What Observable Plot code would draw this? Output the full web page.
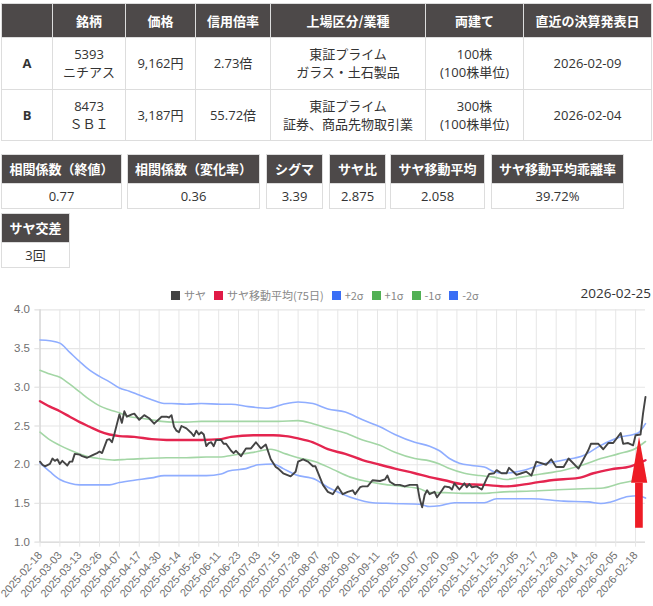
<!DOCTYPE html>
<html lang="ja">
<head>
<meta charset="utf-8">
<script src="https://cdn.jsdelivr.net/npm/d3@7"></script>
<script src="https://cdn.jsdelivr.net/npm/@observablehq/plot@0.6"></script>
<style>
html,body{margin:0;padding:0;background:#fff;}
body{width:653px;height:606px;position:relative;overflow:hidden;font-family:"Open Sans","Noto Sans CJK JP",sans-serif;color:#333;}
table{border-collapse:collapse;table-layout:fixed;position:absolute;font-size:13px;line-height:18px;text-align:center;}
th{background:#4d4949;color:#fff;font-weight:700;border:1px solid #ddd;padding:0;font-family:"Noto Sans CJK JP",sans-serif;font-size:13px;white-space:nowrap;}
td{border:1px solid #ddd;padding:0;background:#fff;white-space:nowrap;}
td.h{font-weight:700;}
#legend{position:absolute;left:171px;top:287px;font:11px "Noto Sans CJK JP",sans-serif;color:#888;display:flex;align-items:center;white-space:nowrap;}
#legend i{display:inline-block;width:9px;height:9px;margin-right:4px;}
#legend span{margin-right:8px;display:flex;align-items:center;}
#date{position:absolute;right:2px;top:284px;font:13.5px "Open Sans",sans-serif;color:#333;}
#chart{position:absolute;left:0;top:285px;}
</style>
</head>
<body>
<div id="tables"></div>
<div id="chart"></div>
<div id="legend"></div>
<div id="date"></div>
<script>
const mainHead = ["", "銘柄", "価格", "信用倍率", "上場区分/業種", "両建て", "直近の決算発表日"];
const mainRowA = ["A", "5393<br>ニチアス", "9,162円", "2.73倍", "東証プライム<br>ガラス・土石製品", "100株<br>(100株単位)", "2026-02-09"];
const mainRowB = ["B", "8473<br>ＳＢＩ", "3,187円", "55.72倍", "東証プライム<br>証券、商品先物取引業", "300株<br>(100株単位)", "2026-02-04"];
const statHead = ["相関係数（終値）", "相関係数（変化率）", "シグマ", "サヤ比", "サヤ移動平均", "サヤ移動平均乖離率", "サヤ交差"];
const statVals = ["0.77", "0.36", "3.39", "2.875", "2.058", "39.72%", "3回"];
const latestDate = "2026-02-25";

const tickLabels = ["2025-02-18","2025-03-03","2025-03-13","2025-03-26","2025-04-07","2025-04-17","2025-04-30","2025-05-14","2025-05-26","2025-06-11","2025-06-23","2025-07-03","2025-07-15","2025-07-28","2025-08-07","2025-08-20","2025-09-01","2025-09-11","2025-09-25","2025-10-07","2025-10-20","2025-10-30","2025-11-12","2025-11-25","2025-12-05","2025-12-17","2025-12-29","2026-01-14","2026-01-26","2026-02-05","2026-02-18"];

// trading-day index of each reading, and the value read there
const sayaDay = [0,1,2,4,5,6,7,8,9,11,12,13,14,16,17,19,21,23,24,25,27,28,29,30,32,33,34,35,37,38,40,42,44,46,49,51,52,53,54,55,56,57,59,61,62,63,64,65,66,67,68,69,70,71,73,74,75,77,78,79,81,83,85,87,89,91,93,95,96,98,101,103,104,106,108,110,111,113,114,116,118,120,122,124,126,127,129,130,132,134,137,139,140,141,143,145,147,149,152,153,154,155,156,157,159,160,162,163,165,166,167,169,171,172,173,174,176,178,180,181,183,184,186,188,189,192,194,196,198,200,204,206,208,211,213,217,221,222,225,227,229,231,234,235,237,239,240,242,243,244];
const sayaVal = [2.04,2.00,1.98,2.01,2.08,2.05,2.07,2.01,2.05,1.99,2.04,2.04,2.14,2.13,2.11,2.09,2.12,2.15,2.17,2.15,2.32,2.33,2.29,2.40,2.65,2.54,2.69,2.62,2.65,2.66,2.58,2.64,2.60,2.53,2.62,2.62,2.61,2.64,2.49,2.44,2.42,2.50,2.47,2.41,2.37,2.44,2.39,2.42,2.39,2.24,2.28,2.29,2.24,2.32,2.32,2.27,2.27,2.18,2.15,2.18,2.11,2.21,2.21,2.29,2.21,2.26,2.07,1.97,1.95,1.89,1.85,1.91,2.04,2.07,2.04,1.98,1.98,1.82,1.74,1.65,1.62,1.72,1.62,1.65,1.67,1.62,1.71,1.72,1.72,1.80,1.79,1.81,1.86,1.78,1.74,1.74,1.72,1.74,1.74,1.56,1.45,1.61,1.67,1.62,1.65,1.58,1.67,1.72,1.71,1.68,1.76,1.68,1.76,1.71,1.75,1.71,1.72,1.68,1.82,1.88,1.89,1.93,1.89,1.89,1.96,1.87,1.89,1.91,1.86,2.04,2.00,2.07,1.97,1.97,2.08,1.95,2.19,2.27,2.27,2.20,2.28,2.28,2.41,2.27,2.28,2.25,2.38,2.39,2.66,2.875];

const maDay = [0,4,8,12,16,20,24,28,32,38,45,51,59,65,73,77,86,94,99,104,110,116,123,130,137,143,151,157,163,170,179,188,198,206,217,223,230,238,244];
const maVal = [2.82,2.75,2.69,2.62,2.55,2.49,2.43,2.39,2.37,2.36,2.33,2.32,2.32,2.32,2.33,2.36,2.38,2.38,2.37,2.34,2.29,2.20,2.14,2.06,2.00,1.95,1.89,1.84,1.80,1.75,1.74,1.72,1.76,1.80,1.83,1.89,1.94,1.98,2.058];

const plus2Day = [0,4,8,12,16,20,24,28,32,36,40,45,50,53,59,65,73,77,84,92,98,104,110,116,123,130,137,143,151,157,161,165,169,174,179,183,187,195,203,211,219,226,233,241,244];
const plus2Val = [3.61,3.60,3.57,3.45,3.33,3.22,3.14,3.07,2.99,2.95,2.90,2.84,2.79,2.79,2.78,2.79,2.78,2.78,2.75,2.73,2.78,2.81,2.79,2.72,2.68,2.58,2.49,2.39,2.29,2.24,2.18,2.08,2.02,1.99,1.97,1.91,1.89,1.93,2.01,2.06,2.12,2.25,2.35,2.41,2.53];

const plus1Day = [0,4,8,12,16,20,24,28,32,36,41,45,49,53,59,65,73,77,87,96,104,110,116,123,130,137,143,151,157,161,165,171,177,183,188,194,202,211,219,226,233,240,244];
const plus1Val = [3.22,3.17,3.13,3.04,2.94,2.84,2.76,2.71,2.67,2.62,2.60,2.58,2.56,2.55,2.55,2.56,2.56,2.56,2.56,2.56,2.57,2.53,2.47,2.41,2.32,2.25,2.16,2.08,2.05,2.01,1.95,1.89,1.86,1.84,1.81,1.84,1.88,1.93,2.00,2.08,2.14,2.21,2.30];

const minus1Day = [0,4,8,12,16,20,24,30,35,42,51,59,67,73,77,86,93,99,104,111,118,125,131,138,146,153,157,163,170,179,187,198,211,219,227,234,240,244];
const minus1Val = [2.42,2.32,2.25,2.19,2.14,2.10,2.08,2.06,2.07,2.08,2.09,2.09,2.10,2.10,2.12,2.16,2.20,2.14,2.09,2.04,1.94,1.84,1.79,1.75,1.72,1.69,1.64,1.64,1.63,1.63,1.65,1.66,1.68,1.69,1.70,1.76,1.80,1.84];

const minus2Day = [0,4,8,12,16,24,28,32,38,45,50,59,67,73,76,83,88,94,98,103,111,116,122,127,134,142,153,157,161,167,179,184,198,211,221,226,230,237,241,244];
const minus2Val = [2.02,1.91,1.81,1.76,1.74,1.74,1.74,1.77,1.80,1.83,1.86,1.86,1.86,1.88,1.92,1.95,2.00,2.01,1.95,1.87,1.81,1.71,1.62,1.56,1.51,1.50,1.49,1.46,1.47,1.51,1.51,1.56,1.56,1.53,1.52,1.50,1.52,1.59,1.60,1.57];

const legendNames = ["サヤ","サヤ移動平均(75日)","+2σ","+1σ","-1σ","-2σ"];
const legendColors = ["#444444","#e01a46","#3a6ef5","#52b055","#52b055","#3a6ef5"];

// red arrow annotation, in chart units
const arrowHeadDay = [238.4,241.6,244.9];
const arrowHeadTop = [1.76,2.354,1.76];
const arrowHeadBase = [1.76,1.76,1.76];
const arrowShaftDay = [240,243.1];
const arrowShaftVal = [1.18,1.76];

const pairs = (xs, ys) => xs.map((x, i) => ({x, y: ys[i]}));

// tables
const tables = document.getElementById("tables");
function mainTable() {
  const w = [51,73,70,75,155,98,128];
  const cols = w.map(v => `<col style="width:${v}px">`).join("");
  const head = mainHead.map(t => `<th style="height:33px">${t}</th>`).join("");
  const row = r => r.map((t, i) => `<td style="height:50.5px"${i === 0 ? ' class="h"' : ""}>${t}</td>`).join("");
  return `<table style="left:1px;top:3px;width:650px"><colgroup>${cols}</colgroup><tr>${head}</tr><tr>${row(mainRowA)}</tr><tr>${row(mainRowB)}</tr></table>`;
}
function statTable(i, left, top, width) {
  return `<table style="left:${left}px;top:${top}px;width:${width}px"><tr><th style="height:28px">${statHead[i]}</th></tr><tr><td style="height:24px">${statVals[i]}</td></tr></table>`;
}
const statPos = [[1,154,121],[127,154,133],[266,154,57],[329,154,57],[390,154,95],[491,154,133],[1,213,69]];
tables.innerHTML = mainTable() + statPos.map((p, i) => statTable(i, ...p)).join("");

document.getElementById("date").textContent = latestDate;
document.getElementById("legend").innerHTML = legendNames.map((n, i) =>
  `<span><i style="background:${legendColors[i]}"></i>${n}</span>`).join("");

const yFont = {fontFamily: "Liberation Sans, Arial, sans-serif", fontSize: 11.5};
const xFont = {fontFamily: "Liberation Sans, Arial, sans-serif", fontSize: 11};
const bandBlue = "#8fadff", bandGreen = "#a3d6a5";

const plot = Plot.plot({
  width: 653,
  height: 321,
  marginLeft: 39.5,
  marginRight: 8,
  marginTop: 24.3,
  marginBottom: 64.3,
  style: {background: "transparent", overflow: "visible"},
  x: {type: "linear", domain: [0, 244]},
  y: {domain: [1, 4]},
  marks: [
    Plot.gridY(d3.range(1, 4.01, 0.5), {stroke: "#e6e6e6", strokeOpacity: 1, strokeWidth: 1.2, x1: -2}),
    Plot.gridX(d3.range(0, 241, 8), {stroke: "#e6e6e6", strokeOpacity: 1}),
    Plot.ruleY([1], {stroke: "#d8d8d8"}),
    Plot.ruleX([0], {stroke: "#cccccc"}),
    Plot.axisY({
      ticks: d3.range(1, 4.01, 0.5), tickFormat: d3.format(".1f"), tickSize: 5, tickPadding: 5,
      stroke: "#e6e6e6", ...yFont, fill: "#707070", label: null
    }),
    Plot.axisX({
      ticks: d3.range(0, 241, 8), tickFormat: d => tickLabels[d / 8], tickSize: 5, tickPadding: 6,
      tickRotate: -49, stroke: "#e6e6e6", ...xFont, fill: "#707070", label: null
    }),
    Plot.line(pairs(plus2Day, plus2Val), {x: "x", y: "y", stroke: bandBlue, strokeWidth: 1.6, curve: "monotone-x"}),
    Plot.line(pairs(minus2Day, minus2Val), {x: "x", y: "y", stroke: bandBlue, strokeWidth: 1.6, curve: "monotone-x"}),
    Plot.line(pairs(plus1Day, plus1Val), {x: "x", y: "y", stroke: bandGreen, strokeWidth: 1.6, curve: "monotone-x"}),
    Plot.line(pairs(minus1Day, minus1Val), {x: "x", y: "y", stroke: bandGreen, strokeWidth: 1.6, curve: "monotone-x"}),
    Plot.line(pairs(maDay, maVal), {x: "x", y: "y", stroke: "#e4254f", strokeWidth: 2.4, curve: "monotone-x"}),
    Plot.line(pairs(sayaDay, sayaVal), {x: "x", y: "y", stroke: "#444444", strokeWidth: 1.9, curve: "linear"}),
    Plot.areaY(arrowHeadDay.map((x, i) => ({x, y1: arrowHeadBase[i], y2: arrowHeadTop[i]})), {x: "x", y1: "y1", y2: "y2", fill: "#ee1c25", curve: "linear"}),
    Plot.rect([0], {x1: arrowShaftDay[0], x2: arrowShaftDay[1], y1: arrowShaftVal[0], y2: arrowShaftVal[1], fill: "#ee1c25"})
  ]
});
document.getElementById("chart").appendChild(plot);
</script>
</body>
</html>
